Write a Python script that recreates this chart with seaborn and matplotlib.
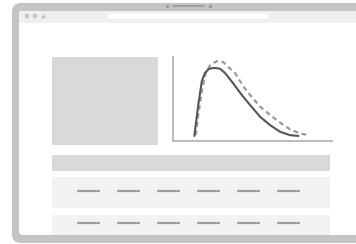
import matplotlib
matplotlib.use("Agg")
import matplotlib.pyplot as plt
from matplotlib.patches import FancyBboxPatch, Rectangle, Circle, Polygon
import pandas as pd
import seaborn as sns

# curve values (x on 0..10, y on 0..1)
solid_x = [1.34, 1.59, 1.81, 2.01, 2.26, 2.64, 2.96, 3.27, 3.69, 4.32, 4.84,
           5.47, 6.10, 6.73, 7.36, 7.88]
solid_y = [0.06, 0.43, 0.71, 0.81, 0.86, 0.87, 0.86, 0.81, 0.71, 0.55, 0.43,
           0.29, 0.19, 0.11, 0.07, 0.06]
dashed_x = [1.43, 1.59, 1.81, 2.06, 2.33, 2.75, 3.16, 3.48, 3.90, 4.42, 4.84,
            5.47, 6.10, 6.73, 7.36, 7.99, 8.51]
dashed_y = [0.07, 0.31, 0.59, 0.81, 0.90, 0.95, 0.94, 0.88, 0.81, 0.65, 0.55,
            0.41, 0.31, 0.22, 0.14, 0.09, 0.07]

# placeholder table: dash columns (pixel x) and row centres (pixel y)
dash_cols = [78, 118, 158, 198, 238, 278]
dash_rows = [191, 223]

W, H = 356, 244
FRAME = "#c4c4c4"
BAR = "#efefef"
BLOCK = "#d9d9d9"
ROW = "#f2f2f2"

sns.set_style("white")
fig = plt.figure(figsize=(W / 100, H / 100), dpi=100)

# background canvas in pixel units
bg = fig.add_axes([0, 0, 1, 1])
bg.set_xlim(0, W)
bg.set_ylim(H, 0)
bg.axis("off")

# browser frame
bg.add_patch(FancyBboxPatch((12, 3), 380, 240, boxstyle="round,pad=0,rounding_size=9",
                            fc=FRAME, ec="none"))
bg.add_patch(FancyBboxPatch((19, 11), 370, 224, boxstyle="round,pad=0,rounding_size=4",
                            fc="white", ec="none"))
bg.add_patch(Rectangle((19, 11), 370, 12, fc=BAR, ec="none"))
bg.add_patch(FancyBboxPatch((108, 13.5), 160, 5.5, boxstyle="round,pad=0,rounding_size=2.7",
                            fc="white", ec="none"))
# window icons
bg.add_patch(Rectangle((25, 14), 4, 4, fc=FRAME, ec="none"))
bg.add_patch(Circle((35, 16), 2.2, fc=FRAME, ec="none"))
bg.add_patch(Polygon([[41, 18.2], [46, 18.2], [43.5, 13.8]], fc=FRAME, ec="none"))
# notch
bg.plot([173, 204], [6, 6], color="#9a9a9a", lw=1.3, solid_capstyle="round")
bg.plot([166.5, 209.5], [6, 6], "o", color="#9a9a9a", ms=1.4)

# image placeholder
bg.add_patch(FancyBboxPatch((52, 57), 106, 88, boxstyle="round,pad=0,rounding_size=1",
                            fc=BLOCK, ec="none"))
# table header and rows
bg.add_patch(FancyBboxPatch((52, 155), 278, 16, boxstyle="round,pad=0,rounding_size=1",
                            fc=BLOCK, ec="none"))
bg.add_patch(FancyBboxPatch((52, 177), 278, 31, boxstyle="round,pad=0,rounding_size=1",
                            fc=ROW, ec="none"))
bg.add_patch(FancyBboxPatch((52, 215), 278, 24, boxstyle="round,pad=0,rounding_size=1",
                            fc=ROW, ec="none"))
for yr in dash_rows:
    for xc in dash_cols:
        bg.plot([xc, xc + 21], [yr, yr], color="#9c9c9c", lw=1.6, solid_capstyle="round")
# bottom border drawn over the rows
bg.add_patch(Rectangle((19, 235), 370, 8, fc=FRAME, ec="none"))

# chart
ax = fig.add_axes([173 / W, 1 - 141 / H, 159 / W, 84 / H])
ax.patch.set_alpha(0)
df_solid = pd.DataFrame({"x": solid_x, "y": solid_y})
df_dash = pd.DataFrame({"x": dashed_x, "y": dashed_y})
sns.lineplot(data=df_dash, x="x", y="y", ax=ax, color="#9a9a9a", lw=1.6,
             linestyle=(0, (2.2, 1.6)), sort=False)
sns.lineplot(data=df_solid, x="x", y="y", ax=ax, color="#555555", lw=1.5, sort=False)
ax.set_xlim(0, 10)
ax.set_ylim(0, 1)
ax.set_xticks([])
ax.set_yticks([])
ax.set_xlabel("")
ax.set_ylabel("")
for side in ["top", "right"]:
    ax.spines[side].set_visible(False)
for side in ["left", "bottom"]:
    ax.spines[side].set_color("#b5b5b5")
    ax.spines[side].set_linewidth(1.3)

fig.savefig("out.png", dpi=100)
